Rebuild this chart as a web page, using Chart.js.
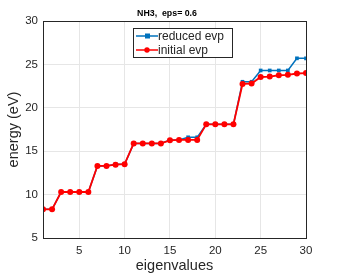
<!DOCTYPE html>
<html>
<head>
<meta charset="utf-8">
<script src="https://cdn.jsdelivr.net/npm/chart.js@4"></script>
<style>
  html, body { margin: 0; padding: 0; background: #fff; }
  #wrap { width: 338px; height: 276px; }
</style>
</head>
<body>
<div id="wrap"><canvas id="evpChart" width="338" height="276"></canvas></div>
<script>
// eigenvalue index and energies (eV)
var eigIndex = [];
for (var i = 1; i <= 30; i++) eigIndex.push(i);

var reducedEvp = [8.3, 8.3, 10.3, 10.3, 10.3, 10.3, 13.3, 13.3, 13.5, 13.5,
                  15.9, 15.9, 15.9, 15.9, 16.3, 16.3, 16.6, 16.6, 18.1, 18.1,
                  18.1, 18.1, 23.0, 23.0, 24.3, 24.3, 24.3, 24.3, 25.7, 25.7];
var initialEvp = [8.3, 8.3, 10.3, 10.3, 10.3, 10.3, 13.3, 13.3, 13.45, 13.5,
                  15.9, 15.9, 15.9, 15.9, 16.25, 16.3, 16.3, 16.3, 18.1, 18.1,
                  18.1, 18.1, 22.75, 22.8, 23.55, 23.6, 23.75, 23.8, 23.95, 24.0];

var xTicks = [5, 10, 15, 20, 25, 30];
var yTicks = [5, 10, 15, 20, 25, 30];

var blue = '#0072BD';
var red = '#FF0000';
var textColor = '#262626';
var fontFamily = '"Liberation Sans", Arial, Helvetica, sans-serif';
var titleText = 'NH3,  eps= 0.6';

function toPoints(ys) {
    return eigIndex.map(function(x, k) { return { x: x, y: ys[k] }; });
}

// draws the title, the axes box and the in-plot legend, MATLAB style
var boxAndLegend = {
    id: 'boxAndLegend',
    afterDraw: function(chart) {
        var ctx = chart.ctx;
        var a = chart.chartArea;
        ctx.save();
        ctx.strokeStyle = '#262626';
        ctx.lineWidth = 1;
        ctx.strokeRect(Math.round(a.left) + 0.5, Math.round(a.top) + 0.5,
                       Math.round(a.right - a.left), Math.round(a.bottom - a.top));

        // title, a little left of the axes centre like the original
        ctx.fillStyle = '#000';
        ctx.font = 'bold 8.8px ' + fontFamily;
        ctx.textAlign = 'center';
        ctx.textBaseline = 'middle';
        ctx.fillText(titleText, 167, 14);

        // legend box
        var lx = 133, ly = 28, lw = 99, lh = 29;
        ctx.fillStyle = '#fff';
        ctx.fillRect(lx, ly, lw, lh);
        ctx.strokeStyle = '#262626';
        ctx.strokeRect(lx + 0.5, ly + 0.5, lw, lh);

        var entries = [
            { label: chart.data.datasets[0].label, color: blue, style: 'rect', y: ly + 8 },
            { label: chart.data.datasets[1].label, color: red, style: 'circle', y: ly + 22 }
        ];
        ctx.font = '12px ' + fontFamily;
        ctx.textAlign = 'left';
        entries.forEach(function(e) {
            ctx.strokeStyle = e.color;
            ctx.lineWidth = 1.5;
            ctx.beginPath();
            ctx.moveTo(lx + 3, e.y);
            ctx.lineTo(lx + 25, e.y);
            ctx.stroke();
            ctx.fillStyle = e.color;
            if (e.style === 'rect') {
                ctx.fillRect(lx + 12, e.y - 2.5, 5, 5);
            } else {
                ctx.beginPath();
                ctx.arc(lx + 14, e.y, 2.7, 0, Math.PI * 2);
                ctx.fill();
            }
            ctx.fillStyle = textColor;
            ctx.fillText(e.label, lx + 25, e.y + 0.5);
        });
        ctx.restore();
    }
};

const ctx = document.getElementById('evpChart');
const evpChart = new Chart(ctx, {
    type: 'line',
    data: {
        datasets: [{
            label: 'reduced evp',
            data: toPoints(reducedEvp),
            borderColor: blue,
            backgroundColor: blue,
            borderWidth: 1.5,
            pointStyle: 'rect',
            pointRadius: 2.6,
            pointBorderWidth: 0,
            order: 2
        }, {
            label: 'initial evp',
            data: toPoints(initialEvp),
            borderColor: red,
            backgroundColor: red,
            borderWidth: 1.8,
            pointStyle: 'circle',
            pointRadius: 3,
            pointBorderWidth: 0,
            order: 1
        }]
    },
    options: {
        responsive: false,
        animation: false,
        layout: { padding: { left: 0, right: 32, top: 21, bottom: 0 } },
        plugins: {
            legend: { display: false },
            tooltip: { enabled: false },
            title: { display: false }
        },
        scales: {
            x: {
                type: 'linear',
                min: 1,
                max: 30,
                afterBuildTicks: function(scale) {
                    scale.ticks = xTicks.map(function(v) { return { value: v }; });
                },
                afterFit: function(scale) { scale.height = 38; },
                grid: { color: '#e6e6e6', drawTicks: false },
                border: { display: false },
                ticks: {
                    color: textColor,
                    padding: 6,
                    maxRotation: 0,
                    font: { family: fontFamily, size: 11.5 }
                },
                title: {
                    display: true,
                    text: 'eigenvalues',
                    color: textColor,
                    padding: { top: 0, bottom: 1 },
                    font: { family: fontFamily, size: 14.5 }
                }
            },
            y: {
                min: 5,
                max: 30,
                afterBuildTicks: function(scale) {
                    scale.ticks = yTicks.map(function(v) { return { value: v }; });
                },
                afterFit: function(scale) { scale.width = 43; },
                grid: { color: '#e6e6e6', drawTicks: false },
                border: { display: false },
                ticks: {
                    color: textColor,
                    padding: 5,
                    font: { family: fontFamily, size: 11.5 }
                },
                title: {
                    display: true,
                    text: 'energy (eV)',
                    color: textColor,
                    padding: { top: 5, bottom: 0 },
                    font: { family: fontFamily, size: 14.5 }
                }
            }
        }
    },
    plugins: [boxAndLegend]
});
</script>
</body>
</html>
